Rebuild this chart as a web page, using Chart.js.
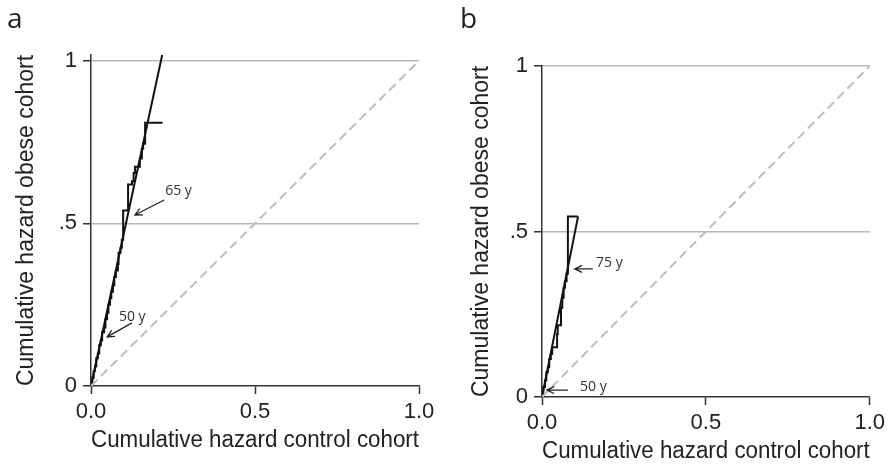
<!DOCTYPE html>
<html><head><meta charset="utf-8">
<script src="https://cdn.jsdelivr.net/npm/chart.js@4/dist/chart.umd.min.js"></script>
<style>
html,body{margin:0;padding:0;background:#fff;}
#wrap{position:relative;width:890px;height:465px;overflow:hidden;}
.pane{position:absolute;top:0;width:445px;height:465px;}
#pa{left:0} #pb{left:445px}
</style></head><body>
<div id="wrap">
<div class="pane" id="pa"><canvas id="ca" width="445" height="465"></canvas></div>
<div class="pane" id="pb"><canvas id="cb" width="445" height="465"></canvas></div>
</div>
<script>
// ---- shared axis data ----
const xTicks = [0, 0.5, 1];
const xTickLabels = ['0.0', '0.5', '1.0'];
const yTicks = [0, 0.5, 1];
const yTickLabels = ['0', '.5', '1'];
const xTitle = 'Cumulative hazard control cohort';
const yTitle = 'Cumulative hazard obese cohort';
const refX = [0, 1];
const refY = [0, 1];

// ---- panel a ----
const aPanel = 'a';
const aStepX = [0, 0.004, 0.008, 0.012, 0.016, 0.021, 0.025, 0.030, 0.034, 0.040, 0.044, 0.049, 0.053, 0.058, 0.062, 0.067, 0.071, 0.076, 0.082, 0.084, 0.090, 0.094, 0.098, 0.113, 0.113, 0.125, 0.130, 0.134, 0.149, 0.155, 0.159, 0.165, 0.218];
const aStepY = [0, 0.025, 0.045, 0.060, 0.085, 0.100, 0.125, 0.140, 0.165, 0.180, 0.205, 0.225, 0.250, 0.270, 0.290, 0.310, 0.335, 0.355, 0.375, 0.410, 0.425, 0.450, 0.540, 0.555, 0.620, 0.630, 0.655, 0.674, 0.700, 0.730, 0.745, 0.810, 0.810];
const aFitX = [0, 0.217];
const aFitY = [0, 1.018];
const aNoteText = ['65 y', '50 y'];
const aNoteX = [0.226, 0.085];
const aNoteY = [0.600, 0.212];
const aArrowFromX = [0.223, 0.125];
const aArrowFromY = [0.572, 0.194];
const aArrowToX = [0.134, 0.049];
const aArrowToY = [0.526, 0.151];
const aYMax = 1.018;

// ---- panel b ----
const bPanel = 'b';
const bStepX = [0, 0.004, 0.009, 0.013, 0.018, 0.022, 0.027, 0.031, 0.046, 0.048, 0.058, 0.062, 0.066, 0.070, 0.075, 0.079, 0.110];
const bStepY = [0, 0.030, 0.050, 0.075, 0.090, 0.115, 0.130, 0.150, 0.190, 0.217, 0.270, 0.300, 0.330, 0.350, 0.372, 0.545, 0.545];
const bFitX = [0, 0.110];
const bFitY = [0, 0.545];
const bNoteText = ['75 y', '50 y'];
const bNoteX = [0.165, 0.116];
const bNoteY = [0.405, 0.030];
const bArrowFromX = [0.155, 0.079];
const bArrowFromY = [0.387, 0.021];
const bArrowToX = [0.100, 0.015];
const bArrowToY = [0.387, 0.021];
const bYMax = 1;

const pts = (xs, ys) => xs.map((v, i) => ({x: v, y: ys[i]}));

const notesPlugin = {
  id: 'notes',
  afterDatasetsDraw(chart, args, o) {
    const ctx = chart.ctx, sx = chart.scales.x, sy = chart.scales.y;
    ctx.save();
    ctx.strokeStyle = '#222';
    ctx.fillStyle = '#333';
    ctx.lineWidth = 1.3;
    ctx.font = '14px "Open Sans"';
    ctx.textBaseline = 'middle';
    ctx.textAlign = 'left';
    for (let i = 0; i < o.text.length; i++) {
      const x0 = sx.getPixelForValue(o.fromX[i]), y0 = sy.getPixelForValue(o.fromY[i]);
      const x1 = sx.getPixelForValue(o.toX[i]), y1 = sy.getPixelForValue(o.toY[i]);
      const a = Math.atan2(y1 - y0, x1 - x0), h = 8;
      ctx.beginPath();
      ctx.moveTo(x0, y0); ctx.lineTo(x1, y1);
      ctx.moveTo(x1 - h * Math.cos(a - 0.45), y1 - h * Math.sin(a - 0.45));
      ctx.lineTo(x1, y1);
      ctx.lineTo(x1 - h * Math.cos(a + 0.45), y1 - h * Math.sin(a + 0.45));
      ctx.stroke();
      ctx.fillText(o.text[i], sx.getPixelForValue(o.tx[i]), sy.getPixelForValue(o.ty[i]));
    }
    ctx.font = '28px "Open Sans"';
    ctx.fillStyle = '#222';
    ctx.textBaseline = 'alphabetic';
    ctx.fillText(o.panel, o.px, o.py);
    ctx.restore();
  }
};

function makeChart(id, c) {
  return new Chart(document.getElementById(id), {
    type: 'scatter',
    data: {
      datasets: [
        {data: pts(refX, refY), showLine: true, borderColor: '#bdbdbd', borderWidth: 2, borderDash: [9, 5], pointRadius: 0},
        {data: pts(c.fitX, c.fitY), showLine: true, borderColor: '#111', borderWidth: 2, pointRadius: 0},
        {data: pts(c.stepX, c.stepY), showLine: true, stepped: 'before', borderColor: '#111', borderWidth: 2, pointRadius: 0}
      ]
    },
    options: {
      responsive: false,
      animation: false,
      devicePixelRatio: 1,
      layout: {padding: c.pad},
      plugins: {
        legend: {display: false},
        tooltip: {enabled: false},
        notes: c.notes
      },
      scales: {
        x: {
          type: 'linear', min: 0, max: 1,
          afterBuildTicks: s => { s.ticks = xTicks.map(v => ({value: v})); },
          afterFit: s => { s.height = c.xh; },
          grid: {drawOnChartArea: false, drawTicks: true, tickLength: 8, tickColor: '#333', tickWidth: 1.5},
          border: {display: true, color: '#333', width: 1.5},
          ticks: {
            callback: v => xTickLabels[xTicks.indexOf(v)],
            font: {family: '"Liberation Sans", Arial, sans-serif', size: 22},
            color: '#222', padding: 5, maxRotation: 0, autoSkip: false
          },
          title: {display: true, text: xTitle, color: '#222',
            font: {family: '"Liberation Sans", Arial, sans-serif', size: 23},
            padding: {top: 0, bottom: c.xtp}}
        },
        y: {
          type: 'linear', min: 0, max: c.yMax,
          afterBuildTicks: s => { s.ticks = yTicks.map(v => ({value: v})); },
          afterFit: s => { s.width = c.yw; },
          grid: {
            color: ctx => (ctx.tick && ctx.tick.value === 0) ? 'rgba(0,0,0,0)' : '#b8b8b8',
            lineWidth: 1.5, drawTicks: true, tickLength: 8, tickColor: '#333', tickWidth: 1.5
          },
          border: {display: true, color: '#333', width: 1.5},
          ticks: {
            callback: v => yTickLabels[yTicks.indexOf(v)],
            font: {family: '"Liberation Sans", Arial, sans-serif', size: 22},
            color: '#222', padding: 6, autoSkip: false
          },
          title: {display: true, text: yTitle, color: '#222',
            font: {family: '"Liberation Sans", Arial, sans-serif', size: 23},
            padding: {top: c.ytp, bottom: 0}}
        }
      }
    },
    plugins: [notesPlugin]
  });
}

makeChart('ca', {
  stepX: aStepX, stepY: aStepY, fitX: aFitX, fitY: aFitY, yMax: aYMax,
  pad: {left: 0, top: 55, right: 26, bottom: 0}, yw: 91, xh: 79, xtp: 11, ytp: 13,
  notes: {text: aNoteText, tx: aNoteX, ty: aNoteY, fromX: aArrowFromX, fromY: aArrowFromY,
          toX: aArrowToX, toY: aArrowToY, panel: aPanel, px: 7, py: 28}
});
makeChart('cb', {
  stepX: bStepX, stepY: bStepY, fitX: bFitX, fitY: bFitY, yMax: bYMax,
  pad: {left: 0, top: 66, right: 20, bottom: 0}, yw: 97, xh: 68, xtp: 0, ytp: 23,
  notes: {text: bNoteText, tx: bNoteX, ty: bNoteY, fromX: bArrowFromX, fromY: bArrowFromY,
          toX: bArrowToX, toY: bArrowToY, panel: bPanel, px: 15, py: 28}
});
</script>
</body></html>
